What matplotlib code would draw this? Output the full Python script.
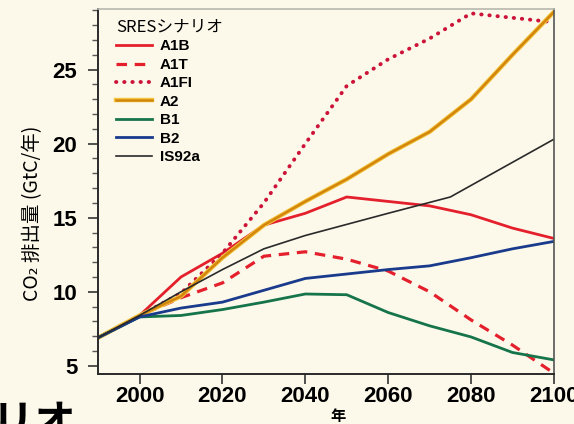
import numpy as np
import matplotlib
matplotlib.use("Agg")
import matplotlib.pyplot as plt
import matplotlib.patheffects as pe
from matplotlib.ticker import MultipleLocator

plt.rcParams['font.family'] = ['Liberation Sans', 'Noto Sans CJK JP', 'DejaVu Sans']
jp = ['Noto Sans CJK JP', 'DejaVu Sans']

# CO2 emissions (GtC/yr) for the SRES scenarios
years = [1990, 2000, 2010, 2020, 2030, 2040, 2050, 2060, 2070, 2080, 2090, 2100]
a1b  = [6.9, 8.4, 11.0, 12.6, 14.5, 15.3, 16.4, 16.1, 15.8, 15.2, 14.3, 13.6]
a1t  = [6.9, 8.4, 9.6, 10.6, 12.4, 12.7, 12.2, 11.4, 10.0, 8.1, 6.4, 4.5]
a1fi = [6.9, 8.4, 9.9, 12.6, 16.0, 20.0, 23.9, 25.7, 27.1, 28.8, 28.5, 28.2]
a2   = [6.9, 8.4, 9.7, 12.3, 14.5, 16.1, 17.6, 19.3, 20.8, 23.0, 26.0, 28.9]
b1   = [6.9, 8.3, 8.4, 8.8, 9.3, 9.85, 9.8, 8.6, 7.7, 6.95, 5.9, 5.4]
b2   = [6.9, 8.3, 8.9, 9.3, 10.1, 10.9, 11.2, 11.5, 11.75, 12.3, 12.9, 13.4]
is92a_years = [1990, 2000, 2010, 2020, 2030, 2040, 2050, 2060, 2075, 2100]
is92a = [6.9, 8.4, 10.0, 11.5, 12.9, 13.8, 14.55, 15.3, 16.4, 20.3]

bg = '#fcf9eb'
fig = plt.figure(figsize=(5.74, 4.24), dpi=100, facecolor=bg)
ax = fig.add_axes([0.171, 0.118, 0.794, 0.861], facecolor=bg)

ax.plot(years, a1b, color='#e3202c', lw=2.0, label='A1B')
ax.plot(years, a1t, color='#e3202c', lw=2.3, dashes=(3.3, 2.4), label='A1T')
ax.plot(years, a1fi, color='#cc1438', lw=2.8, dashes=(0.1, 2.0),
        dash_capstyle='round', label='A1FI')
ax.plot(years, a2, color='#d4860c', lw=1.8, label='A2',
        path_effects=[pe.Stroke(linewidth=3.2, foreground='#f3c640'), pe.Normal()])
ax.plot(years, b1, color='#16744a', lw=2.0, label='B1')
ax.plot(years, b2, color='#1a3a8c', lw=2.0, label='B2')
ax.plot(is92a_years, is92a, color='#2a2a2a', lw=1.2, label='IS92a')

ax.set_xlim(1990, 2100)
ax.set_ylim(4.45, 29.1)
ax.set_xticks([2000, 2020, 2040, 2060, 2080, 2100])
ax.set_yticks([5, 10, 15, 20, 25])
ax.yaxis.set_minor_locator(MultipleLocator(1))
ax.tick_params(axis='both', which='major', direction='out', length=7, width=1.2,
               labelsize=16, color='#333333')
ax.tick_params(axis='y', which='minor', direction='out', length=4, width=1.0,
               color='#555555')
ax.tick_params(axis='y', pad=8)
ax.tick_params(axis='x', pad=2)
for lbl in ax.get_xticklabels() + ax.get_yticklabels():
    lbl.set_fontweight('bold')

for side in ['left', 'bottom']:
    ax.spines[side].set_color('#2a2a2a')
    ax.spines[side].set_linewidth(1.4)
ax.spines['right'].set_color('#555555')
ax.spines['right'].set_linewidth(1.2)
ax.spines['top'].set_color('#b8b8b0')
ax.spines['top'].set_linewidth(1.2)

leg = ax.legend(loc='upper left', bbox_to_anchor=(0.04, 0.975), frameon=False,
                title='SRESシナリオ', alignment='left',
                prop={'size': 11, 'weight': 'bold'},
                title_fontproperties={'size': 12, 'family': jp},
                handlelength=2.3, handletextpad=0.55, labelspacing=0.29,
                borderpad=0, borderaxespad=0)

fig.text(33 / 574, 1 - 213 / 424, 'CO₂ 排出量 (GtC/年)', rotation=90,
         ha='center', va='center', fontsize=14, family=jp)
fig.text(338 / 574, 1 - 416 / 424, '年', ha='center', va='center', fontsize=11,
         fontweight='bold', family=jp)
fig.text(76 / 574, 1 - 402 / 424, 'シナリオ', ha='right', va='top', fontsize=30,
         fontweight='bold', family=jp)

fig.savefig('out.png', dpi=100, facecolor=bg)
